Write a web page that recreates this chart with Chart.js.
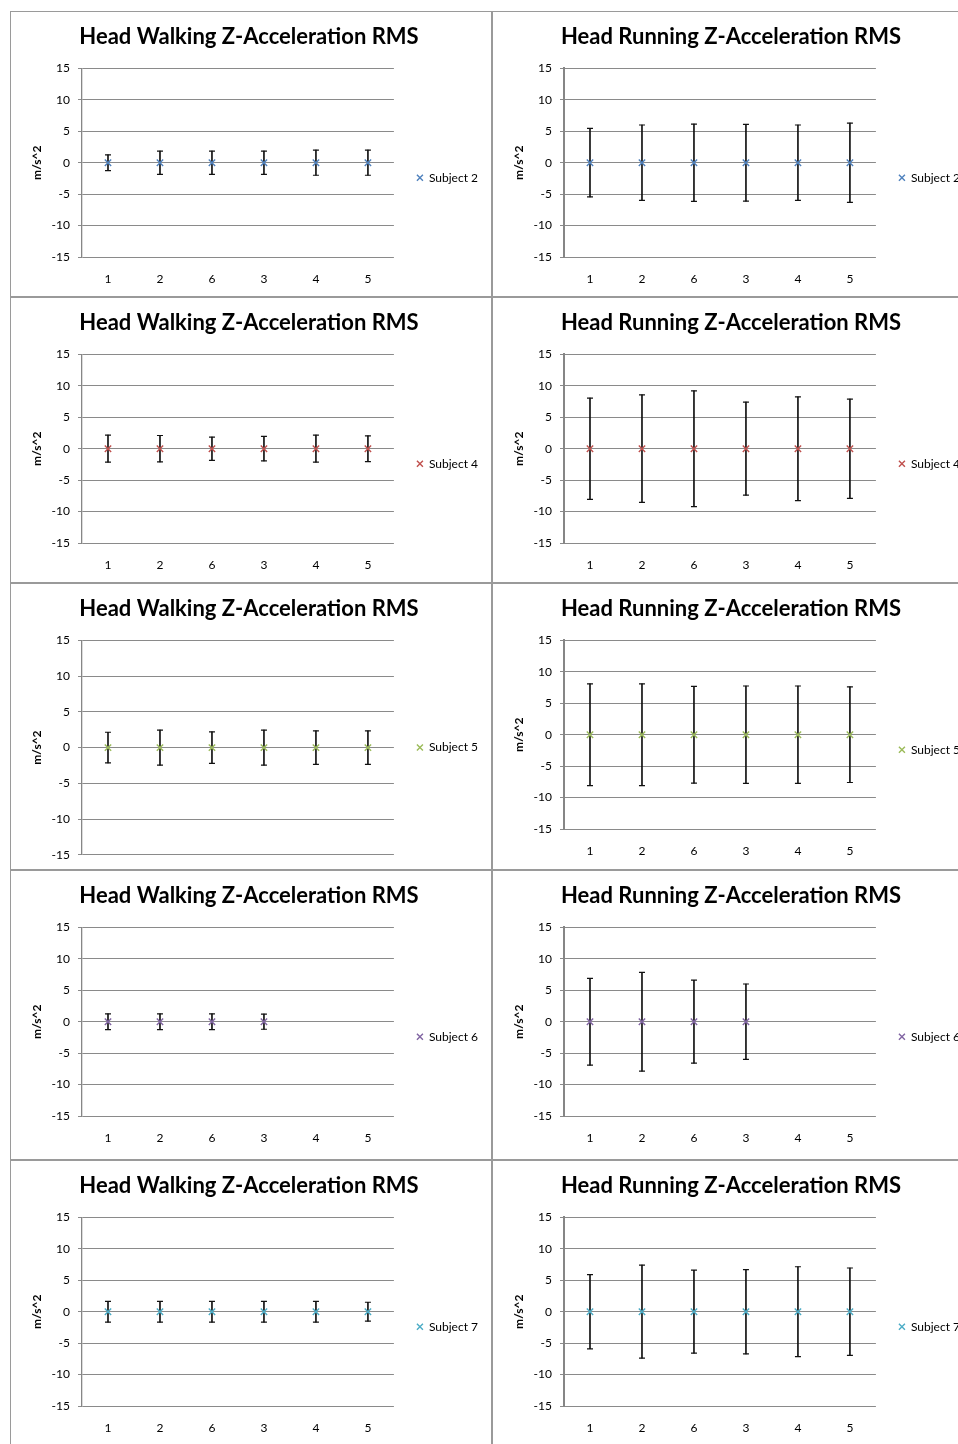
<!DOCTYPE html>
<html>
<head>
<meta charset="utf-8">
<title>Head Z-Acceleration RMS</title>
<script src="https://cdn.jsdelivr.net/npm/chart.js@4.4.0/dist/chart.umd.min.js"></script>
<style>
  html, body { margin: 0; padding: 0; background: #fff; }
  body { position: relative; width: 958px; height: 1444px; overflow: hidden; }
  .panel { position: absolute; box-sizing: border-box; border: 1px solid #9a9a9a; }
  canvas { position: absolute; }
</style>
</head>
<body>
<script>
// x categories in the order they were plotted
const categories = ['1', '2', '6', '3', '4', '5'];
const subjects = ['Subject 2', 'Subject 4', 'Subject 5', 'Subject 6', 'Subject 7'];
const yTicks = [-15, -10, -5, 0, 5, 10, 15];

// mean RMS per location (m/s^2)
const walkMeanS2 = [0, 0, 0, 0, 0, 0];
const runMeanS2  = [0, 0, 0, 0, 0, 0];
const walkMeanS4 = [0, 0, 0, 0, 0, 0];
const runMeanS4  = [0, 0, 0, 0, 0, 0];
const walkMeanS5 = [0, 0, 0, 0, 0, 0];
const runMeanS5  = [0, 0, 0, 0, 0, 0];
const walkMeanS6 = [0, 0, 0, 0, null, null];
const runMeanS6  = [0, 0, 0, 0, null, null];
const walkMeanS7 = [0, 0, 0, 0, 0, 0];
const runMeanS7  = [0, 0, 0, 0, 0, 0];

// +/- error bar size per location
const walkErrS2 = [1.25, 1.85, 1.85, 1.85, 2.0, 2.0];
const runErrS2  = [5.45, 6.0, 6.15, 6.1, 6.0, 6.3];
const walkErrS4 = [2.15, 2.1, 1.85, 1.95, 2.15, 2.05];
const runErrS4  = [8.05, 8.55, 9.2, 7.4, 8.25, 7.9];
const walkErrS5 = [2.15, 2.45, 2.2, 2.45, 2.35, 2.35];
const runErrS5  = [8.1, 8.1, 7.7, 7.75, 7.75, 7.6];
const walkErrS6 = [1.25, 1.25, 1.25, 1.2, null, null];
const runErrS6  = [6.9, 7.85, 6.6, 6.0, null, null];
const walkErrS7 = [1.65, 1.65, 1.65, 1.65, 1.65, 1.5];
const runErrS7  = [5.9, 7.4, 6.6, 6.7, 7.15, 6.95];

const subjectColors = ['#4F81BD', '#C0504D', '#9BBB59', '#8064A2', '#4BACC6'];
const walkTitle = 'Head Walking Z-Acceleration RMS';
const runTitle = 'Head Running Z-Acceleration RMS';

const colLeft = [10, 492];
const rowTop = [11, 297, 583, 870, 1160];
const chartW = 482, chartH = 287;

const panels = [
  { row: 0, col: 0, title: walkTitle, s: 0, mean: walkMeanS2, err: walkErrS2 },
  { row: 0, col: 1, title: runTitle,  s: 0, mean: runMeanS2,  err: runErrS2 },
  { row: 1, col: 0, title: walkTitle, s: 1, mean: walkMeanS4, err: walkErrS4 },
  { row: 1, col: 1, title: runTitle,  s: 1, mean: runMeanS4,  err: runErrS4 },
  { row: 2, col: 0, title: walkTitle, s: 2, mean: walkMeanS5, err: walkErrS5 },
  { row: 2, col: 1, title: runTitle,  s: 2, mean: runMeanS5,  err: runErrS5 },
  { row: 3, col: 0, title: walkTitle, s: 3, mean: walkMeanS6, err: walkErrS6 },
  { row: 3, col: 1, title: runTitle,  s: 3, mean: runMeanS6,  err: runErrS6 },
  { row: 4, col: 0, title: walkTitle, s: 4, mean: walkMeanS7, err: walkErrS7 },
  { row: 4, col: 1, title: runTitle,  s: 4, mean: runMeanS7,  err: runErrS7 }
];

Chart.defaults.font.family = 'Lato, sans-serif';
Chart.defaults.color = '#000';

// pushes the legend down a little from where the layout centres it
const legendNudge = {
  id: 'legendNudge',
  afterLayout(chart, args, opts) {
    const lg = chart.legend;
    if (!lg || !opts.dy) return;
    lg.top += opts.dy;
    lg.bottom += opts.dy;
  }
};

// panel frames
rowTop.forEach((top, r) => {
  const h = (r < rowTop.length - 1 ? rowTop[r + 1] : 1460) - top;
  colLeft.forEach((left, c) => {
    const d = document.createElement('div');
    d.className = 'panel';
    d.style.left = left + 'px';
    d.style.top = top + 'px';
    d.style.width = (c ? 500 : 482) + 'px';
    d.style.height = h + 'px';
    document.body.appendChild(d);
  });
});

function makeChart(p) {
  const canvas = document.createElement('canvas');
  canvas.width = chartW;
  canvas.height = chartH;
  canvas.style.left = colLeft[p.col] + 'px';
  canvas.style.top = rowTop[p.row] + 'px';
  document.body.appendChild(canvas);

  const color = subjectColors[p.s];
  // this one was stretched taller, its x labels fall below the frame
  const tall = p.row === 2 && p.col === 0;
  const hi = p.err.map(e => e == null ? null : e);
  const lo = p.err.map(e => e == null ? null : -e);
  const whisker = p.err.map(e => e == null ? null : [-e, e]);

  new Chart(canvas, {
    type: 'bar',
    data: {
      labels: categories,
      datasets: [
        {
          type: 'line', label: subjects[p.s], data: p.mean, showLine: false,
          pointStyle: 'crossRot', pointRadius: 4.5, pointBorderWidth: 1.4,
          borderColor: color, backgroundColor: color
        },
        {
          type: 'line', label: 'cap+', data: hi, showLine: false,
          pointStyle: 'line', pointRadius: 3, pointBorderWidth: 1.2,
          borderColor: '#111', backgroundColor: '#111'
        },
        {
          type: 'line', label: 'cap-', data: lo, showLine: false,
          pointStyle: 'line', pointRadius: 3, pointBorderWidth: 1.2,
          borderColor: '#111', backgroundColor: '#111'
        },
        {
          type: 'bar', label: 'err', data: whisker,
          backgroundColor: '#111', borderWidth: 0, barThickness: 1
        }
      ]
    },
    options: {
      responsive: false,
      animation: false,
      events: [],
      layout: { padding: { left: 0, right: 4, top: 0, bottom: 0 } },
      plugins: {
        title: {
          display: true, text: p.title, color: '#000',
          font: { size: 22, weight: 'bold' },
          padding: { top: 13, bottom: 18 }
        },
        legend: {
          position: 'right', fullSize: false, align: 'center',
          labels: {
            usePointStyle: true, boxWidth: 6, boxHeight: 6, padding: 23,
            color: '#000', font: { size: 12 },
            filter: item => item.datasetIndex === 0
          }
        },
        tooltip: { enabled: false },
        legendNudge: { dy: tall ? 0 : 15 }
      },
      scales: {
        x: {
          offset: true,
          grid: { display: false, drawTicks: false },
          border: { display: false },
          ticks: { display: !tall, padding: 15, color: '#000', font: { size: 12 } },
          afterFit: s => { s.height = tall ? 13 : 41; }
        },
        y: {
          min: -15, max: 15,
          afterBuildTicks: s => { s.ticks = yTicks.map(v => ({ value: v })); },
          grid: { color: '#8a8a8a', lineWidth: 1, tickLength: 4 },
          border: { color: '#868686', width: p.col ? 2 : 1.3 },
          ticks: { padding: 8, color: '#000', font: { size: 12 } },
          title: {
            display: true, text: 'm/s^2', color: '#000',
            font: { size: 12, weight: 'bold' },
            padding: { top: 20, bottom: 0 }
          },
          afterFit: s => { s.width = 72; }
        }
      }
    },
    plugins: [legendNudge]
  });
}

panels.forEach(makeChart);
</script>
</body>
</html>
